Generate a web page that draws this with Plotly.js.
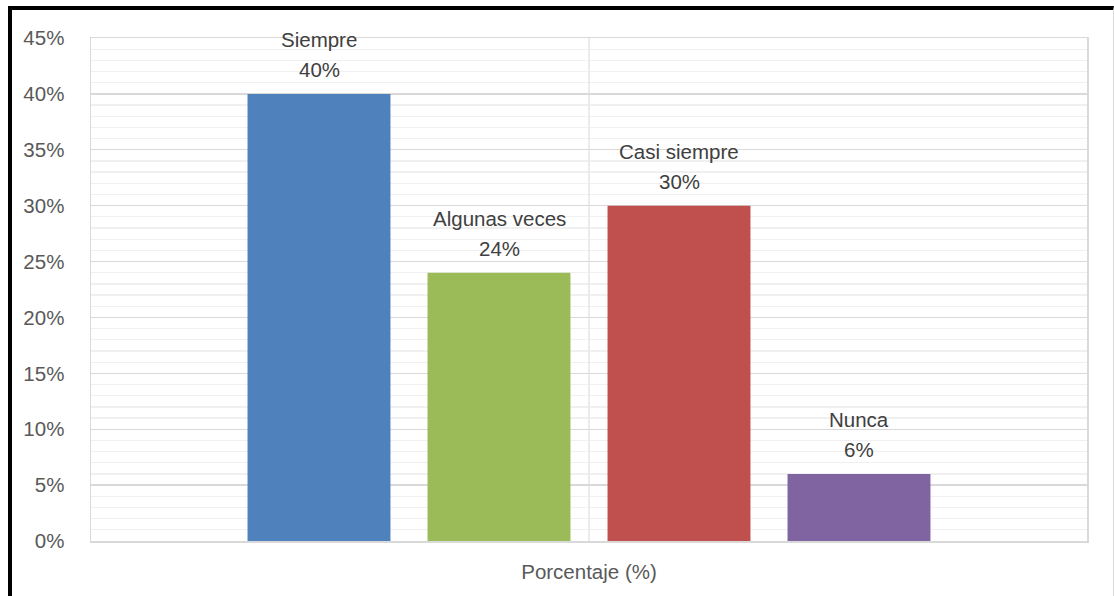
<!DOCTYPE html>
<html>
<head>
<meta charset="utf-8">
<script src="https://cdn.plot.ly/plotly-3.0.1.min.js"></script>
<style>
  html, body { margin: 0; padding: 0; background: #ffffff; }
  #wrap { position: relative; width: 1114px; height: 596px; overflow: hidden; }
  #chart { position: absolute; left: 0; top: 0; width: 1114px; height: 596px; }
  #frame { position: absolute; left: 8px; top: 6px; width: 1106px; height: 600px; box-sizing: border-box;
           border-top: 4px solid #000; border-left: 4px solid #000; border-right: 1px solid #d9d9d9; pointer-events: none; }
</style>
</head>
<body>
<div id="wrap">
  <div id="chart"></div>
  <div id="frame"></div>
</div>
<script>
// ---- data ----
const categories = ["Siempre", "Algunas veces", "Casi siempre", "Nunca"];
const values = [0.40, 0.24, 0.30, 0.06];
const axisLabel = ["Porcentaje (%)"];
const yTickVals = [0, 0.05, 0.10, 0.15, 0.20, 0.25, 0.30, 0.35, 0.40, 0.45];

// ---- style ----
const colors = ["#4f81bd", "#9bbb59", "#c0504d", "#8064a2"];
const FONT = "Liberation Sans, Arial, sans-serif";
const FS = 20.5;
const positions = categories.map((c, i) => i);
const center = (positions.length - 1) / 2;

const traces = categories.map((c, i) => ({
  type: "bar",
  x: [positions[i]],
  y: [values[i]],
  width: 0.794,
  name: c,
  marker: { color: colors[i], line: { width: 0 } },
  hoverinfo: "skip",
  showlegend: false
}));

const annotations = [];
categories.forEach((c, i) => {
  annotations.push({
    x: positions[i], y: values[i], xref: "x", yref: "y",
    text: Math.round(values[i] * 100) + "%",
    showarrow: false, yanchor: "middle", xanchor: "center", yshift: 24,
    font: { family: FONT, size: FS, color: "#404040" }
  });
  annotations.push({
    x: positions[i], y: values[i], xref: "x", yref: "y",
    text: c,
    showarrow: false, yanchor: "middle", xanchor: "center", yshift: 54,
    font: { family: FONT, size: FS, color: "#404040" }
  });
});

const halfSpan = 996 / 180 / 2;
const layout = {
  width: 1114, height: 596,
  margin: { l: 91, r: 27, t: 38, b: 55 },
  paper_bgcolor: "#ffffff", plot_bgcolor: "#ffffff",
  barmode: "overlay",
  font: { family: FONT, size: FS, color: "#595959" },
  xaxis: {
    type: "linear",
    range: [center - halfSpan, center + halfSpan],
    tickvals: [center], ticktext: axisLabel,
    showgrid: true, gridcolor: "#ebebeb", gridwidth: 1.5,
    zeroline: false, ticks: "",
    showline: true, linecolor: "#d9d9d9", linewidth: 1.5, mirror: true,
    ticklabelstandoff: 12,
    tickfont: { family: FONT, size: FS, color: "#595959" },
    fixedrange: true
  },
  yaxis: {
    range: [0, 0.45],
    tickvals: yTickVals, tickformat: ".0%",
    showgrid: true, gridcolor: "#d9d9d9", gridwidth: 1.3,
    minor: { dtick: 0.01, showgrid: true, gridcolor: "#f0f0f0", gridwidth: 1.3, ticks: "" },
    zeroline: false, ticks: "",
    showline: true, linecolor: "#d9d9d9", linewidth: 1.5, mirror: true,
    ticklabelstandoff: 21,
    tickfont: { family: FONT, size: FS, color: "#595959" },
    fixedrange: true
  },
  annotations: annotations
};

Plotly.newPlot("chart", traces, layout, { displayModeBar: false, staticPlot: true });
</script>
</body>
</html>
